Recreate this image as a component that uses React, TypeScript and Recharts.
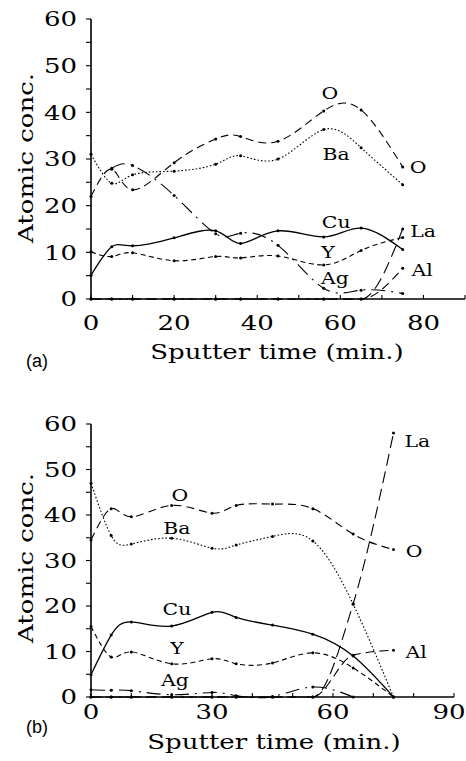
import React from 'react';
import { LineChart, Line, XAxis, YAxis, ReferenceDot } from 'recharts';

// ---------- panel (a) ----------
const timeA = [0, 5, 10, 20, 30, 36, 45, 56, 65, 75];
const oA = [22, 27.8, 23.4, 29.2, 34.3, 34.8, 33.8, 40.3, 40.5, 28.3];
const baA = [31, 24.8, 26.6, 27.4, 28.9, 30.7, 30.0, 36.3, 32.4, 24.5];
const cuA = [5.1, 11.2, 11.4, 13.1, 14.6, 11.9, 14.6, 13.3, 15.2, 10.6];
const yA = [10.1, 9.1, 9.9, 8.2, 9.1, 8.8, 9.2, 7.3, 10.4, 13.2];
const agA = [null, 28.0, 28.6, 22.2, 14.0, 14.1, 11.5, 2.3, 1.9, 1.2];
const laA = [0, 0, 0, 0, 0, 0, 0, 0, 0, 15.0];
const alA = [0, 0, 0, 0, 0, 0, 0, 0, 0, 6.6];

// ---------- panel (b) ----------
const timeB = [0, 5, 10, 20, 30, 36, 45, 55, 65, 75];
const oB = [34.5, 41.4, 39.6, 42.1, 40.4, 42.1, 42.4, 41.4, 35.8, 32.4];
const baB = [47.0, 35.5, 33.6, 34.9, 32.7, 33.4, 35.3, 34.3, 20.4, 0];
const cuB = [4.9, 13.6, 16.5, 15.6, 18.6, 17.5, 15.8, 13.8, 9.0, 0];
const yB = [15.5, 8.8, 9.9, 7.3, 8.4, 7.3, 7.5, 9.7, 6.4, 0];
const agB = [1.6, 1.5, 1.4, 0.5, 1.0, 0.3, 0.1, 2.2, 0, null];
const laB = [0, 0, 0, 0, 0, 0, 0, 0, 20.5, 58.0];
const alB = [0, 0, 0, 0, 0, 0, 0, 0, 9.2, 10.3];

// ---------- ticks ----------
const xTicksA = [0, 20, 40, 60, 80];
const xTicksB = [0, 30, 60, 90];
const yTicks = [0, 10, 20, 30, 40, 50, 60];
const xMinor = [0, 10, 20, 30, 40, 50, 60, 70, 80, 90];
const yMinor = [0, 5, 10, 15, 20, 25, 30, 35, 40, 45, 50, 55, 60];

// ---------- curve labels (data coordinates) ----------
const labelsA = [
  { text: 'O', x: 57.5, y: 44.1 },
  { text: 'Ba', x: 59, y: 31.1 },
  { text: 'O', x: 78.7, y: 28.3 },
  { text: 'Cu', x: 59, y: 16.5 },
  { text: 'La', x: 79.9, y: 14.6 },
  { text: 'Y', x: 57, y: 10.1 },
  { text: 'Al', x: 79.7, y: 6.3 },
  { text: 'Ag', x: 58.7, y: 4.5 },
];
const labelsB = [
  { text: 'La', x: 80.9, y: 56.4 },
  { text: 'O', x: 22, y: 44.4 },
  { text: 'Ba', x: 21.3, y: 37.1 },
  { text: 'O', x: 80.1, y: 32.2 },
  { text: 'Cu', x: 21.3, y: 19.3 },
  { text: 'Y', x: 21.3, y: 10.9 },
  { text: 'Al', x: 80.6, y: 10.0 },
  { text: 'Ag', x: 20.8, y: 3.8 },
];

const styles: Record<string, { dash?: string; w: number; curve: any }> = {
  O: { dash: '8 5', w: 1.1, curve: 'natural' },
  Ba: { dash: '1.6 2', w: 1.1, curve: 'natural' },
  Cu: { dash: undefined, w: 1.3, curve: 'natural' },
  Y: { dash: '5 3.5', w: 1.1, curve: 'natural' },
  Ag: { dash: '14 6 2 6', w: 1.1, curve: 'natural' },
  La: { dash: '12 6', w: 1.1, curve: 'monotone' },
  Al: { dash: '9 5', w: 1.1, curve: 'monotone' },
};

function buildRows(t: number[], s: Record<string, (number | null)[]>) {
  return t.map((tv, i) => {
    const r: any = { t: tv };
    Object.keys(s).forEach((k) => (r[k] = s[k][i]));
    return r;
  });
}

const rowsA = buildRows(timeA, { O: oA, Ba: baA, Cu: cuA, Y: yA, Ag: agA, La: laA, Al: alA });
const rowsB = buildRows(timeB, { O: oB, Ba: baB, Cu: cuB, Y: yB, Ag: agB, La: laB, Al: alB });

const SERIF = '"DejaVu Serif", serif';
const SX = 1.3;

function WText({ x, y, children, anchor = 'middle', size = 20, sx = SX, family = SERIF, rotate = 0 }: any) {
  const tr = `translate(${x},${y})` + (rotate ? ` rotate(${rotate})` : '') + ` scale(${sx},1)`;
  return (
    <text transform={tr} x={0} y={size * 0.36} textAnchor={anchor} fontSize={size} fontFamily={family} fill="#000">
      {children}
    </text>
  );
}

type Cfg = {
  height: number;
  top: number;
  bottom: number;
  left: number;
  right: number;
  xLabels: number[];
  xLabelY: number;
};

function Panel({ rows, cfg, labels }: { rows: any[]; cfg: Cfg; labels: any[] }) {
  const { height, top, bottom, left, right, xLabels, xLabelY } = cfg;
  const axisLine = { stroke: '#000', strokeWidth: 1.6 };
  const tickStroke = { stroke: '#000', strokeWidth: 1.1 };

  const bottomTick = (p: any) => {
    const v = p.payload.value;
    const lx = Math.min(p.x, 449);
    return (
      <g>
        <line x1={p.x} x2={p.x} y1={bottom} y2={bottom - 4} {...tickStroke} />
        {xLabels.includes(v) ? <WText x={lx} y={xLabelY}>{String(v)}</WText> : null}
      </g>
    );
  };
  const topTick = (p: any) => (
    <line x1={p.x} x2={p.x} y1={top} y2={top + 4} {...tickStroke} />
  );
  const leftTick = (p: any) => {
    const v = p.payload.value;
    return (
      <g>
        <line x1={left} x2={left - 5} y1={p.y} y2={p.y} {...tickStroke} />
        {yTicks.includes(v) ? <WText x={77} y={p.y} anchor="end">{String(v)}</WText> : null}
      </g>
    );
  };
  const rightTick = (p: any) => (
    <line x1={right} x2={right - 4} y1={p.y} y2={p.y} {...tickStroke} />
  );

  return (
    <LineChart
      width={466}
      height={height}
      data={rows}
      margin={{ top, right: 466 - right, bottom: 0, left: 0 }}
    >
      <XAxis
        dataKey="t"
        type="number"
        domain={[0, 90]}
        ticks={xMinor}
        interval={0}
        tickLine={false}
        axisLine={axisLine}
        height={height - bottom}
        tick={bottomTick}
      />
      <XAxis
        xAxisId="top"
        orientation="top"
        dataKey="t"
        type="number"
        domain={[0, 90]}
        ticks={xMinor}
        interval={0}
        tickLine={false}
        axisLine={axisLine}
        height={0}
        tick={topTick}
      />
      <YAxis
        type="number"
        domain={[0, 60]}
        ticks={yMinor}
        interval={0}
        tickLine={false}
        axisLine={axisLine}
        width={left}
        tick={leftTick}
      />
      <YAxis
        yAxisId="right"
        orientation="right"
        type="number"
        domain={[0, 60]}
        ticks={yMinor}
        interval={0}
        tickLine={false}
        axisLine={axisLine}
        width={0}
        tick={rightTick}
      />
      {Object.keys(styles).map((k) => (
        <Line
          key={k}
          dataKey={k}
          type={styles[k].curve}
          stroke="#000"
          strokeWidth={styles[k].w}
          strokeDasharray={styles[k].dash}
          dot={{ r: 1.5, fill: '#000', stroke: 'none' }}
          connectNulls={false}
          isAnimationActive={false}
        />
      ))}
      {labels.map((l, i) => (
        <ReferenceDot
          key={i}
          x={l.x}
          y={l.y}
          r={0}
          ifOverflow="visible"
          shape={(p: any) => (
            <WText x={p.cx} y={p.cy} size={17} sx={1.2}>
              {l.text}
            </WText>
          )}
        />
      ))}
    </LineChart>
  );
}

const cfgA: Cfg = { height: 380, top: 19, bottom: 299, left: 91, right: 465, xLabels: xTicksA, xLabelY: 323 };
const cfgB: Cfg = { height: 381, top: 44, bottom: 317, left: 91, right: 454, xLabels: xTicksB, xLabelY: 332 };

export default function App() {
  return (
    <div style={{ position: 'absolute', left: 0, top: 0, width: 466, height: 761, background: '#fff' }}>
      <div style={{ position: 'absolute', left: 0, top: 0 }}>
        <Panel rows={rowsA} cfg={cfgA} labels={labelsA} />
      </div>
      <div style={{ position: 'absolute', left: 0, top: 380 }}>
        <Panel rows={rowsB} cfg={cfgB} labels={labelsB} />
      </div>
      <svg
        width={466}
        height={761}
        style={{ position: 'absolute', left: 0, top: 0, pointerEvents: 'none' }}
      >
        <WText x={26} y={158} rotate={-90}>Atomic conc.</WText>
        <WText x={26} y={558} rotate={-90}>Atomic conc.</WText>
        <WText x={277} y={352}>Sputter time (min.)</WText>
        <WText x={274} y={742}>Sputter time (min.)</WText>
        <WText x={37} y={361} size={18} sx={1} family='"Liberation Sans", Arial, sans-serif'>(a)</WText>
        <WText x={37} y={727} size={18} sx={1} family='"Liberation Sans", Arial, sans-serif'>(b)</WText>
      </svg>
    </div>
  );
}
